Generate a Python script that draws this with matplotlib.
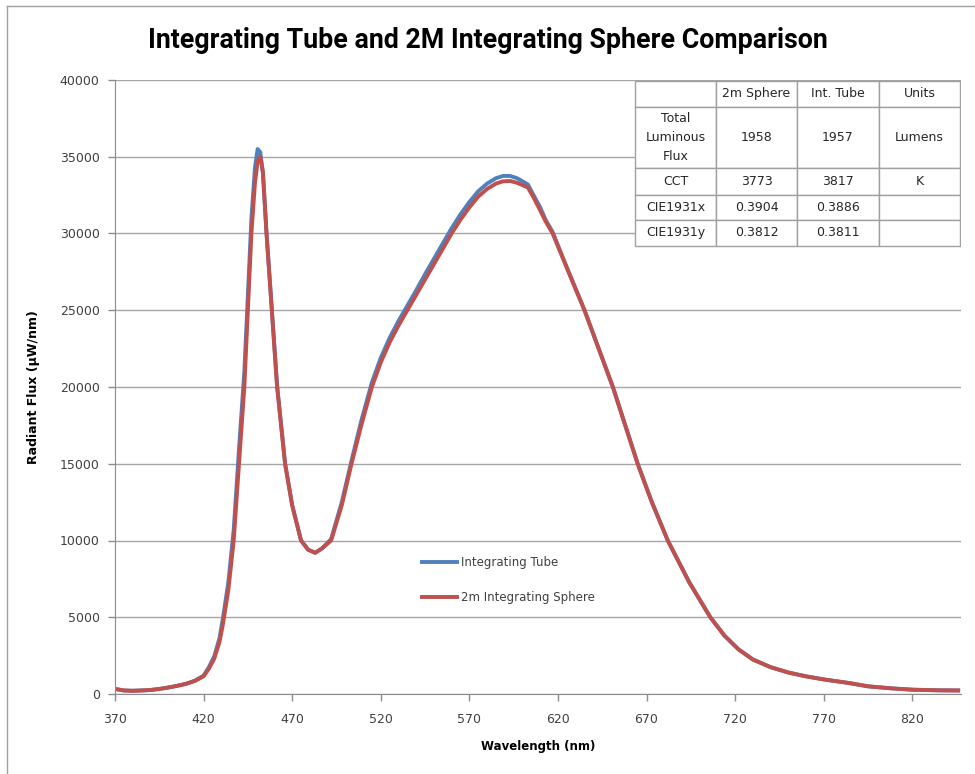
import matplotlib
matplotlib.use("Agg")
import matplotlib.pyplot as plt
from matplotlib.lines import Line2D
from matplotlib.patches import Rectangle

# spectrum (nm, uW/nm)
wavelength = [370, 375, 380, 385, 390, 395, 400, 405, 410, 415, 420, 423, 426, 429,
              431, 434, 437, 440, 443, 445, 447, 449, 450.5, 452, 453.5, 455.5,
              458.5, 461.5, 466, 470, 475, 479, 483, 487, 492, 498, 503.5, 509,
              515, 520, 525, 530, 535, 540, 545, 550, 555, 560, 565, 570, 575, 580,
              585, 589, 593, 597, 600, 603, 606, 610, 613, 617, 626, 635, 643, 651,
              658, 665, 673, 682, 694, 706, 714, 722, 730, 740, 750, 760, 770, 784,
              795, 808, 820, 835, 847]

sphere = [330, 230, 210, 230, 260, 330, 420, 530, 660, 850, 1150, 1650, 2300, 3400,
          4600, 6800, 10000, 15000, 20000, 25000, 30000, 33300, 34700, 35000, 34000, 30000,
          25000, 20000, 15000, 12300, 10000, 9400, 9200, 9500, 10000, 12300, 15000, 17500,
          20000, 21600, 22900, 24000, 25000, 26000, 27000, 28000, 29000, 30000, 30900, 31700, 32400, 32900,
          33250, 33400, 33420, 33300, 33150, 33000, 32400, 31500, 30800, 30000, 27500, 25000, 22500, 20000,
          17500, 15000, 12500, 10000, 7300, 5000, 3800, 2900, 2250, 1750, 1400, 1150, 950, 720,
          500, 370, 280, 240, 230]

tube = [330, 230, 210, 230, 260, 330, 420, 530, 660, 860, 1200, 1750, 2450, 3650,
        5000, 7300, 10700, 16000, 21000, 26000, 31000, 34300, 35500, 35300, 33900, 30100,
        25100, 20100, 15000, 12300, 10000, 9400, 9200, 9500, 10100, 12500, 15200, 17800,
        20300, 21900, 23200, 24300, 25300, 26300, 27350, 28350, 29350, 30350, 31250, 32050, 32750, 33250,
        33600, 33750, 33750, 33600, 33400, 33200, 32550, 31700, 30900, 30100, 27500, 25000, 22500, 20000,
        17500, 15000, 12500, 10000, 7300, 5000, 3800, 2900, 2250, 1750, 1400, 1150, 950, 720,
        500, 370, 280, 240, 230]

x_ticks = list(range(370, 821, 50))
y_ticks = list(range(0, 40001, 5000))

table_cells = [
    ["", "2m Sphere", "Int. Tube", "Units"],
    ["Total\nLuminous\nFlux", "1958", "1957", "Lumens"],
    ["CCT", "3773", "3817", "K"],
    ["CIE1931x", "0.3904", "0.3886", ""],
    ["CIE1931y", "0.3812", "0.3811", ""],
]

BLUE = "#4f81bd"
RED = "#c0504d"
GRID = "#a6a6a6"
TEXT = "#404040"

fig = plt.figure(figsize=(9.75, 7.74), dpi=100)
ax = fig.add_axes([115 / 975, 1 - 694 / 774, 846 / 975, 614 / 774])


def ax_pt(px, py):
    # pixel position in the figure -> axes fraction
    return (px - 115) / 846, (694 - py) / 614


ax.plot(wavelength, tube, color=BLUE, lw=2.8, solid_capstyle="butt", solid_joinstyle="round")
ax.plot(wavelength, sphere, color=RED, lw=2.8, solid_capstyle="butt", solid_joinstyle="round")

ax.set_xlim(370, 847.5)
ax.set_ylim(0, 40000)
ax.set_xticks(x_ticks)
ax.set_yticks(y_ticks)
ax.grid(axis="y", color=GRID, lw=1)
ax.set_axisbelow(True)
for s in ("top", "right"):
    ax.spines[s].set_visible(False)
for s in ("left", "bottom"):
    ax.spines[s].set_color("#8c8c8c")
ax.tick_params(axis="both", colors="#8c8c8c", labelcolor=TEXT, labelsize=9,
               length=5, width=1)
ax.tick_params(axis="x", pad=9)
ax.tick_params(axis="y", pad=6)

ax.set_xlabel("Wavelength (nm)", fontsize=8.5, fontweight="bold", color="black", labelpad=10)
ax.set_ylabel("Radiant Flux (\u00b5W/nm)", fontsize=9, fontweight="bold", color="black",
              labelpad=14)

fig.text(488 / 975, 1 - 40 / 774, "Integrating Tube and 2M Integrating Sphere Comparison",
         ha="center", va="center", fontsize=19.3, fontweight="bold",
         family=["Roboto", "DejaVu Sans"])

# legend without frame
handles = [Line2D([], [], color=BLUE, lw=2.8), Line2D([], [], color=RED, lw=2.8)]
fig.legend(handles, ["Integrating Tube", "2m Integrating Sphere"], loc="upper left",
           bbox_to_anchor=(422 / 975, 1 - 556 / 774), frameon=False, fontsize=8.5,
           handlelength=3.0, handletextpad=0.3, labelspacing=1.9, borderpad=0,
           borderaxespad=0, labelcolor=TEXT)

# summary table in the upper right, drawn cell by cell
col_edges = [635, 716, 797, 879, 960]
row_edges = [81, 107, 168, 195, 220, 246]
for r, row in enumerate(table_cells):
    for c, txt in enumerate(row):
        x0, y0 = ax_pt(col_edges[c], row_edges[r + 1])
        x1, y1 = ax_pt(col_edges[c + 1], row_edges[r])
        ax.add_patch(Rectangle((x0, y0), x1 - x0, y1 - y0, transform=ax.transAxes,
                               facecolor="white", edgecolor="#a0a0a0", lw=1, zorder=5))
        ax.text((x0 + x1) / 2, (y0 + y1) / 2, txt, transform=ax.transAxes,
                ha="center", va="center", fontsize=9, color="#262626",
                linespacing=1.6, zorder=6)

# chart area border (left and top visible)
fig.add_artist(Line2D([7 / 975, 7 / 975], [0, 1 - 6 / 774], color="#a0a0a0", lw=1))
fig.add_artist(Line2D([7 / 975, 1], [1 - 6 / 774, 1 - 6 / 774], color="#a0a0a0", lw=1))

fig.savefig("out.png", dpi=100)
